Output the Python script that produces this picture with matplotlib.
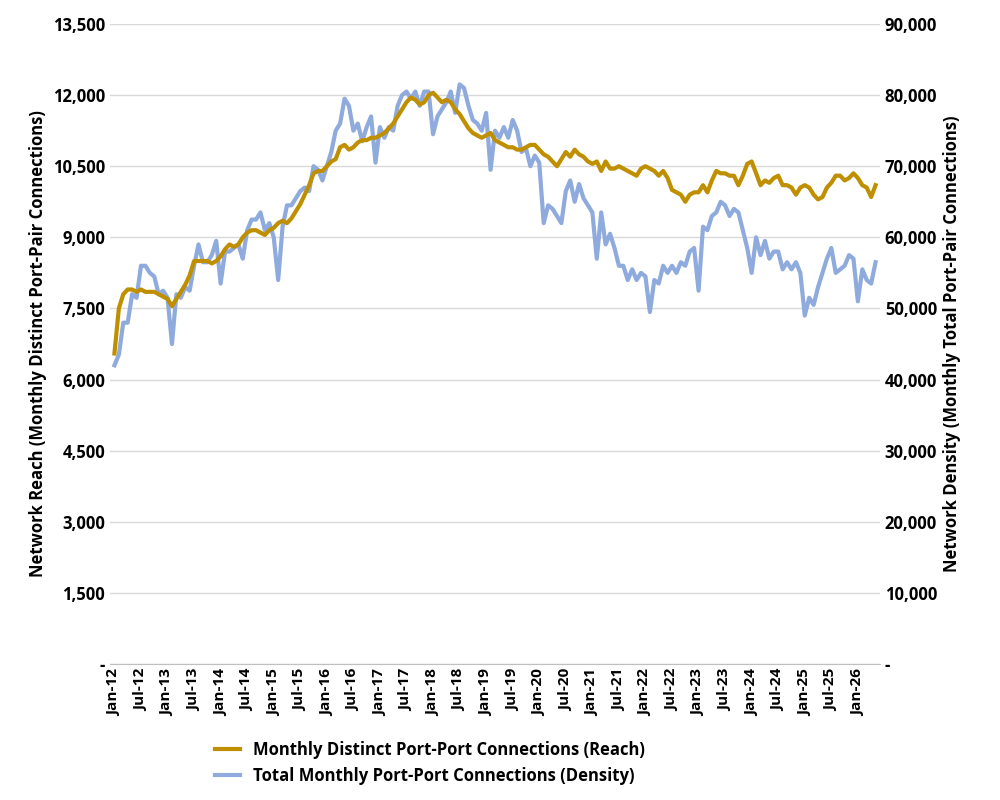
import pandas as pd
import matplotlib
matplotlib.use('Agg')
import matplotlib.pyplot as plt
from matplotlib.ticker import FuncFormatter

plt.rcParams['font.family'] = ['Open Sans', 'DejaVu Sans']
plt.rcParams['font.weight'] = 'bold'
plt.rcParams['axes.labelweight'] = 'bold'

reach = [
    6550, 7500, 7800, 7900, 7900, 7850, 7900, 7850, 7850, 7850, 7800, 7750,
    7700, 7550, 7700, 7850, 8000, 8200, 8500, 8500, 8500, 8500, 8450, 8500,
    8600, 8750, 8850, 8800, 8850, 9000, 9100, 9150, 9150, 9100, 9050, 9150,
    9200, 9300, 9350, 9300, 9400, 9550, 9700, 9900, 10100, 10350, 10400, 10400,
    10500, 10600, 10650, 10900, 10950, 10850, 10900, 11000, 11050, 11050, 11100, 11100,
    11150, 11200, 11300, 11400, 11550, 11700, 11850, 11950, 11900, 11800, 11850, 12000,
    12050, 11950, 11850, 11900, 11850, 11700, 11600, 11450, 11300, 11200, 11150, 11100,
    11150, 11200, 11050, 11000, 10950, 10900, 10900, 10850, 10850, 10900, 10950, 10950,
    10850, 10750, 10700, 10600, 10500, 10650, 10800, 10700, 10850, 10750, 10700, 10600,
    10550, 10600, 10400, 10600, 10450, 10450, 10500, 10450, 10400, 10350, 10300, 10450,
    10500, 10450, 10400, 10300, 10400, 10250, 10000, 9950, 9900, 9750, 9900, 9950,
    9950, 10100, 9950, 10200, 10400, 10350, 10350, 10300, 10300, 10100, 10300, 10550,
    10600, 10350, 10100, 10200, 10150, 10250, 10300, 10100, 10100, 10050, 9900, 10050,
    10100, 10050, 9900, 9800, 9850, 10050, 10150, 10300, 10300, 10200, 10250, 10350,
    10250, 10100, 10050, 9850, 10100,
]
density = [
    42000, 43500, 48000, 48000, 52000, 51500, 56000, 56000, 55000, 54500, 52000, 52500,
    51500, 45000, 52000, 51500, 53000, 52500, 56000, 59000, 56500, 56500, 57500, 59500,
    53500, 58000, 58000, 58500, 59000, 57000, 61000, 62500, 62500, 63500, 61000, 62000,
    60000, 54000, 61500, 64500, 64500, 65500, 66500, 67000, 66500, 70000, 69500, 68000,
    70000, 72000, 75000, 76000, 79500, 78500, 75000, 76000, 73500, 75500, 77000, 70500,
    75500, 74000, 75500, 75000, 78500, 80000, 80500, 79500, 80500, 78500, 80500, 80500,
    74500, 77000, 78000, 79000, 80500, 77500, 81500, 81000, 78500, 76500, 76000, 75000,
    77500, 69500, 75000, 74000, 75500, 74000, 76500, 75000, 72000, 72500, 70000, 71500,
    70500, 62000, 64500, 64000, 63000, 62000, 66500, 68000, 65000, 67500, 65500, 64500,
    63500, 57000, 63500, 59000, 60500, 58500, 56000, 56000, 54000, 55500, 54000, 55000,
    54500, 49500, 54000, 53500, 56000, 55000, 56000, 55000, 56500, 56000, 58000, 58500,
    52500, 61500, 61000, 63000, 63500, 65000, 64500, 63000, 64000, 63500, 61000, 58500,
    55000, 60000, 57500, 59500, 57000, 58000, 58000, 55500, 56500, 55500, 56500, 55000,
    49000, 51500, 50500, 53000, 55000, 57000, 58500, 55000, 55500, 56000, 57500, 57000,
    51000, 55500, 54000, 53500, 56500,
]
months = pd.date_range('2012-01-01', periods=len(reach), freq='MS')
x = list(range(len(months)))

fig, ax = plt.subplots(figsize=(10, 8), dpi=100)
ax2 = ax.twinx()
l1, = ax.plot(x, reach, color='#BF8F00', lw=3, zorder=3,
              label='Monthly Distinct Port-Port Connections (Reach)')
l2, = ax2.plot(x, density, color='#8FAADC', lw=3, zorder=3,
               label='Total Monthly Port-Port Connections (Density)')
ax.set_zorder(ax2.get_zorder() + 1)
ax.patch.set_visible(False)

ax.set_ylim(0, 13500)
ax.set_yticks(range(0, 13501, 1500))
ax2.set_ylim(0, 90000)
ax2.set_yticks(range(0, 90001, 10000))
fmt = FuncFormatter(lambda v, p: '-' if v == 0 else f'{v:,.0f}')
ax.yaxis.set_major_formatter(fmt)
ax2.yaxis.set_major_formatter(fmt)
ax2.grid(axis='y', color='#D9D9D9', lw=1, zorder=0)

ticks = x[::6]
ax.set_xticks(ticks)
ax.set_xticklabels([months[i].strftime('%b-%y') for i in ticks], rotation=90, fontsize=11)
ax.set_xlim(-1, len(x))
ax.set_ylabel('Network Reach (Monthly Distinct Port-Pair Connections)', fontsize=12, fontweight='bold')
ax2.set_ylabel('Network Density (Monthly Total Port-Pair Connections)', fontsize=12, fontweight='bold')
for a in (ax, ax2):
    a.tick_params(axis='y', labelsize=12, length=0)
    for s in a.spines.values():
        s.set_visible(False)
ax.spines['bottom'].set_visible(True)
ax.spines['bottom'].set_color('#BFBFBF')
ax.tick_params(axis='x', length=0)

fig.legend(handles=[l1, l2], loc='lower center', bbox_to_anchor=(0.43, 0.0),
           frameon=False, fontsize=12, handlelength=1.5)
fig.subplots_adjust(left=0.11, right=0.88, top=0.97, bottom=0.17)
fig.savefig('out.png')
